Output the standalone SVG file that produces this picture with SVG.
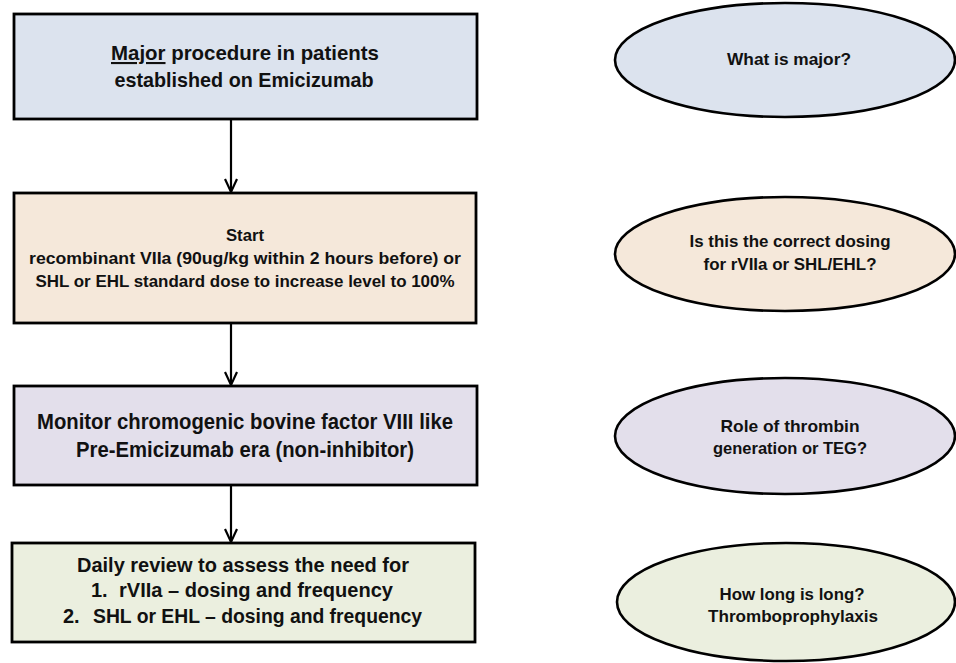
<svg xmlns="http://www.w3.org/2000/svg" width="956" height="663" viewBox="0 0 956 663">
<style>
.box{stroke:#000;stroke-width:2.8}
.ell{stroke:#000;stroke-width:2.6}
text{font-family:"Liberation Sans",Arial,sans-serif;font-weight:bold;fill:#111}
.c{text-anchor:middle}
.conn{stroke:#000;stroke-width:2.2;fill:none}
</style>
<rect width="956" height="663" fill="#fff"/>
<g id="connectors">
<line class="conn" x1="231" y1="120" x2="231" y2="192"/>
<path class="conn" d="M225,179 L231,192 L237,179"/>
<line class="conn" x1="231" y1="324" x2="231" y2="385"/>
<path class="conn" d="M225,372 L231,385 L237,372"/>
<line class="conn" x1="231" y1="486" x2="231" y2="542"/>
<path class="conn" d="M225,529 L231,542 L237,529"/>
</g>
<g id="box1">
<rect class="box" x="14" y="14" width="463" height="105" fill="#dce3ee"/>
<text class="c" x="245" y="60" font-size="21" textLength="268" lengthAdjust="spacingAndGlyphs"><tspan text-decoration="underline">Major</tspan> procedure in patients</text>
<text class="c" x="244" y="87" font-size="21" textLength="259" lengthAdjust="spacingAndGlyphs">established on Emicizumab</text>
</g>
<g id="box2">
<rect class="box" x="14" y="193" width="462" height="130" fill="#f5e8da"/>
<text class="c" x="245" y="241" font-size="17" textLength="38" lengthAdjust="spacingAndGlyphs">Start</text>
<text class="c" x="245" y="264" font-size="17" textLength="432" lengthAdjust="spacingAndGlyphs">recombinant VIIa (90ug/kg within 2 hours before) or</text>
<text class="c" x="245" y="287" font-size="17" textLength="419" lengthAdjust="spacingAndGlyphs">SHL or EHL standard dose to increase level to 100%</text>
</g>
<g id="box3">
<rect class="box" x="14" y="386" width="463" height="99" fill="#e3dfeb"/>
<text class="c" x="245" y="429" font-size="22" textLength="416" lengthAdjust="spacingAndGlyphs">Monitor chromogenic bovine factor VIII like</text>
<text class="c" x="245" y="457" font-size="22" textLength="338" lengthAdjust="spacingAndGlyphs">Pre-Emicizumab era (non-inhibitor)</text>
</g>
<g id="box4">
<rect class="box" x="12" y="543" width="463" height="99" fill="#ebefdf"/>
<text class="c" x="243" y="572" font-size="20" textLength="332" lengthAdjust="spacingAndGlyphs">Daily review to assess the need for</text>
<text x="91" y="597" font-size="20">1.</text>
<text x="119" y="597" font-size="20" textLength="274" lengthAdjust="spacingAndGlyphs">rVIIa – dosing and frequency</text>
<text x="63" y="623" font-size="20">2.</text>
<text x="93" y="623" font-size="20" textLength="329" lengthAdjust="spacingAndGlyphs">SHL or EHL – dosing and frequency</text>
</g>
<g id="q1">
<ellipse class="ell" cx="785" cy="60" rx="170" ry="57" fill="#dce3ee"/>
<text class="c" x="789" y="65" font-size="17" textLength="124" lengthAdjust="spacingAndGlyphs">What is major?</text>
</g>
<g id="q2">
<ellipse class="ell" cx="785" cy="254" rx="170" ry="57" fill="#f5e8da"/>
<text class="c" x="790" y="247" font-size="17" textLength="201" lengthAdjust="spacingAndGlyphs">Is this the correct dosing</text>
<text class="c" x="790" y="270" font-size="17" textLength="173" lengthAdjust="spacingAndGlyphs">for rVIIa or SHL/EHL?</text>
</g>
<g id="q3">
<ellipse class="ell" cx="785" cy="436" rx="170" ry="58" fill="#e3dfeb"/>
<text class="c" x="790" y="432" font-size="17" textLength="139" lengthAdjust="spacingAndGlyphs">Role of thrombin</text>
<text class="c" x="790" y="454" font-size="17" textLength="154" lengthAdjust="spacingAndGlyphs">generation or TEG?</text>
</g>
<g id="q4">
<ellipse class="ell" cx="786" cy="602" rx="169" ry="59" fill="#ebefdf"/>
<text class="c" x="792" y="600" font-size="17" textLength="145" lengthAdjust="spacingAndGlyphs">How long is long?</text>
<text class="c" x="793" y="622" font-size="17" textLength="170" lengthAdjust="spacingAndGlyphs">Thromboprophylaxis</text>
</g>
</svg>
